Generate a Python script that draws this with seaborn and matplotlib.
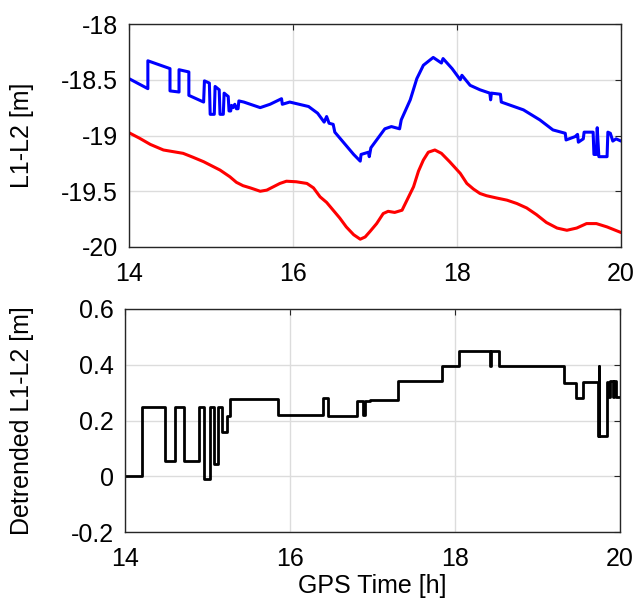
import matplotlib
matplotlib.use("Agg")
import matplotlib.pyplot as plt
import seaborn as sns
import numpy as np
import pandas as pd

# ---- data ----
blue_t = [14.00, 14.23, 14.23, 14.50, 14.50, 14.61, 14.61, 14.73, 14.73, 14.91, 14.92, 14.98,
          14.99, 15.04, 15.05, 15.10, 15.11, 15.15, 15.16, 15.21, 15.22, 15.24, 15.25, 15.27,
          15.29, 15.31, 15.33, 15.34, 15.40, 15.60, 15.72, 15.86, 15.87, 15.96, 16.19, 16.30,
          16.38, 16.41, 16.44, 16.49, 16.51, 16.74, 16.82, 16.83, 16.92, 16.93, 16.95, 17.02,
          17.12, 17.20, 17.30, 17.32, 17.43, 17.51, 17.59, 17.71, 17.81, 17.83, 17.94, 18.04,
          18.06, 18.16, 18.28, 18.40, 18.41, 18.42, 18.53, 18.54, 18.81, 19.01, 19.17, 19.32,
          19.33, 19.44, 19.47, 19.48, 19.54, 19.55, 19.66, 19.67, 19.70, 19.71, 19.73, 19.83,
          19.84, 19.87, 19.90, 19.94, 20.00]
blue_v = [-18.49, -18.58, -18.33, -18.40, -18.60, -18.61, -18.41, -18.43, -18.64, -18.70, -18.51, -18.53,
          -18.81, -18.81, -18.56, -18.59, -18.81, -18.81, -18.62, -18.65, -18.78, -18.78, -18.73, -18.75,
          -18.72, -18.76, -18.76, -18.69, -18.70, -18.75, -18.72, -18.67, -18.72, -18.70, -18.74, -18.80,
          -18.88, -18.83, -18.89, -18.90, -18.97, -19.17, -19.23, -19.17, -19.15, -19.19, -19.11, -19.04,
          -18.94, -18.92, -18.94, -18.86, -18.68, -18.49, -18.37, -18.30, -18.35, -18.31, -18.40, -18.50,
          -18.46, -18.55, -18.59, -18.62, -18.68, -18.62, -18.63, -18.70, -18.77, -18.86, -18.95, -18.98,
          -19.04, -19.01, -18.99, -19.06, -19.03, -18.97, -18.97, -19.17, -19.17, -18.93, -19.19, -19.19,
          -18.97, -18.98, -19.05, -19.03, -19.05]

red_t = [14.00, 14.13, 14.26, 14.42, 14.54, 14.66, 14.78, 14.91, 15.03, 15.11, 15.23, 15.31,
         15.39, 15.48, 15.60, 15.68, 15.76, 15.84, 15.92, 16.04, 16.17, 16.25, 16.33, 16.41,
         16.49, 16.57, 16.65, 16.74, 16.82, 16.88, 16.94, 17.02, 17.10, 17.16, 17.24, 17.33,
         17.39, 17.47, 17.53, 17.59, 17.65, 17.73, 17.81, 17.91, 18.04, 18.12, 18.20, 18.28,
         18.36, 18.48, 18.61, 18.73, 18.85, 18.97, 19.09, 19.22, 19.34, 19.46, 19.58, 19.70,
         19.83, 20.00]
red_v = [-18.975, -19.025, -19.08, -19.13, -19.145, -19.16, -19.195, -19.235, -19.28, -19.31, -19.37, -19.42,
         -19.45, -19.47, -19.50, -19.49, -19.46, -19.43, -19.41, -19.415, -19.43, -19.47, -19.55, -19.60,
         -19.67, -19.74, -19.82, -19.89, -19.93, -19.91, -19.86, -19.79, -19.70, -19.68, -19.69, -19.67,
         -19.58, -19.46, -19.32, -19.22, -19.15, -19.13, -19.16, -19.235, -19.34, -19.43, -19.48, -19.52,
         -19.54, -19.56, -19.58, -19.61, -19.65, -19.71, -19.78, -19.83, -19.85, -19.83, -19.79, -19.79,
         -19.82, -19.87]

det_t = [14.00, 14.21, 14.48, 14.60, 14.72, 14.90, 14.96, 15.03, 15.08, 15.13, 15.17, 15.24,
         15.27, 15.86, 16.40, 16.46, 16.81, 16.89, 16.91, 16.97, 17.31, 17.84, 18.05, 18.42,
         18.44, 18.53, 19.32, 19.47, 19.55, 19.73, 19.74, 19.75, 19.84, 19.86, 19.88, 19.91,
         19.93, 19.95, 20.00]
det_v = [0.00, 0.25, 0.055, 0.25, 0.055, 0.25, -0.01, 0.25, 0.045, 0.25, 0.16, 0.215,
         0.277, 0.22, 0.28, 0.215, 0.27, 0.22, 0.27, 0.275, 0.343, 0.396, 0.45, 0.395,
         0.45, 0.395, 0.336, 0.28, 0.337, 0.144, 0.395, 0.144, 0.337, 0.285, 0.34, 0.285,
         0.34, 0.285, 0.285]

x_ticks = [14, 16, 18, 20]
top_yticks = [-20, -19.5, -19, -18.5, -18]
top_ylabels = ["-20", "-19.5", "-19", "-18.5", "-18"]
bot_yticks = [-0.2, 0, 0.2, 0.4, 0.6]
bot_ylabels = ["-0.2", "0", "0.2", "0.4", "0.6"]

sns.set_style("white")
plt.rcParams['font.family'] = ['Liberation Sans', 'DejaVu Sans']
plt.rcParams['axes.unicode_minus'] = False

W, H = 636, 604
fig = plt.figure(figsize=(W / 100, H / 100), dpi=100)
ax1 = fig.add_axes([129 / W, 1 - 247 / H, 492 / W, 223 / H])
ax2 = fig.add_axes([125 / W, 1 - 532 / H, 495 / W, 223 / H])

sns.lineplot(x=blue_t, y=blue_v, ax=ax1, color='#0000ff', lw=2.2, estimator=None, sort=False)
sns.lineplot(x=red_t, y=red_v, ax=ax1, color='#ff0000', lw=2.2, estimator=None, sort=False)
sns.lineplot(x=det_t, y=det_v, ax=ax2, color='black', lw=2.0, estimator=None, sort=False,
             drawstyle='steps-post')

for ax, yt, yl, lim in [(ax1, top_yticks, top_ylabels, (-20, -18)),
                         (ax2, bot_yticks, bot_ylabels, (-0.2, 0.6))]:
    ax.set_xlim(14, 20)
    ax.set_ylim(*lim)
    ax.set_xticks(x_ticks)
    ax.set_xticklabels([str(t) for t in x_ticks])
    ax.set_yticks(yt)
    ax.set_yticklabels(yl)
    ax.grid(True, color='#dcdcdc', lw=1.0)
    ax.tick_params(direction='in', length=4, width=0.8, top=True, right=True,
                   labelsize=18, colors='#262626')
    ax.tick_params(axis='y', pad=8)
    ax.tick_params(axis='x', pad=11)
    ax.tick_params(axis='both', labelcolor='black')
    for s in ax.spines.values():
        s.set_color('#262626')
        s.set_linewidth(1.0)
    ax.set_xlabel('')

ax1.set_ylabel('L1-L2 [m]', fontsize=18, color='black')
ax1.yaxis.set_label_coords((34 - 129) / 492, 0.5)
ax2.set_ylabel('Detrended L1-L2 [m]', fontsize=18, color='black')
ax2.yaxis.set_label_coords((34 - 125) / 495, 0.5)
ax2.set_xlabel('GPS Time [h]', fontsize=18, color='black')
ax2.xaxis.set_label_coords(0.5, -(574 - 532) / 223)

fig.savefig('out.png', dpi=100)
